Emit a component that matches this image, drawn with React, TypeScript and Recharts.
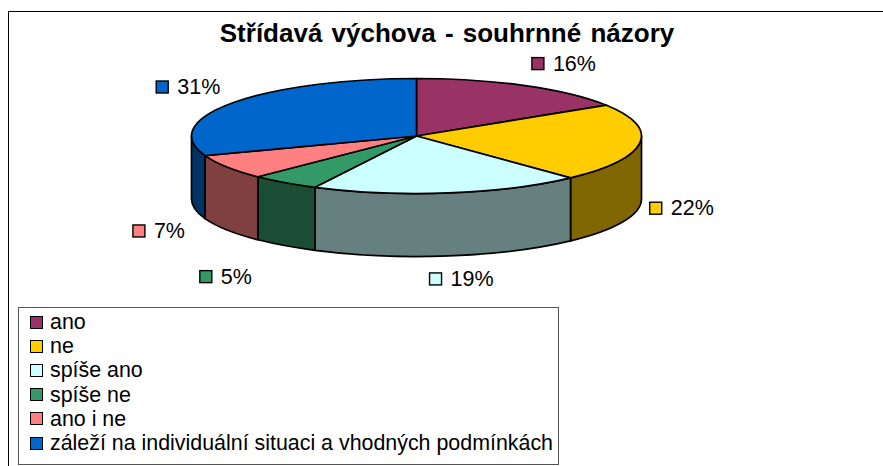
import React from "react";
import { PieChart, Pie, Legend } from "recharts";

const categories = ["ano", "ne", "spíše ano", "spíše ne", "ano i ne", "záleží na individuální situaci a vhodných podmínkách"];
const shares = [16, 22, 19.45, 5, 7, 30.55];
const topColors = ["#993366", "#FFCC00", "#CCFFFF", "#339966", "#FF8080", "#0066CC"];
const wallColors = ["#4D1A33", "#806600", "#668080", "#1A4D33", "#804040", "#003366"];

// label placement relative to the rim point at each slice's middle angle
const labelNudgeX = [40, 43, 14, -52, -61, -43];
const labelNudgeY = [-22, 2, 23, 31, 1, -16];

const table = categories.map((name, i) => ({ name, value: shares[i], fill: topColors[i], wall: wallColors[i] }));

const TILT = 0.2556;
const DEPTH = 63;
const FONT = '"Liberation Sans", Arial, sans-serif';
const RAD = Math.PI / 180;

function SliceShape(props: any) {
  const { cx, cy, outerRadius, startAngle, endAngle, fill, wall } = props;
  const rx = outerRadius;
  const ry = outerRadius * TILT;
  const pt = (a: number, dy = 0) => [cx + rx * Math.cos(a * RAD), cy - ry * Math.sin(a * RAD) + dy];
  const [sx, sy] = pt(startAngle);
  const [ex, ey] = pt(endAngle);
  const large = Math.abs(startAngle - endAngle) > 180 ? 1 : 0;
  const top = `M${cx},${cy} L${sx},${sy} A${rx},${ry} 0 ${large} 1 ${ex},${ey} Z`;
  const a1 = Math.min(0, startAngle);
  const a2 = Math.max(-180, endAngle);
  let side = null;
  if (a1 > a2) {
    const [x1, y1] = pt(a1);
    const [x2, y2] = pt(a2);
    const [x3, y3] = pt(a2, DEPTH);
    const [x4, y4] = pt(a1, DEPTH);
    side = (
      <path
        d={`M${x1},${y1} A${rx},${ry} 0 0 1 ${x2},${y2} L${x3},${y3} A${rx},${ry} 0 0 0 ${x4},${y4} Z`}
        fill={wall}
        stroke="#000"
        strokeWidth={1.7}
        strokeLinejoin="round"
      />
    );
  }
  return (
    <g>
      {side}
      <path d={top} fill={fill} stroke="#000" strokeWidth={1.7} strokeLinejoin="round" />
    </g>
  );
}

function SliceLabel(props: any) {
  const { cx, cy, outerRadius, midAngle, index, value, fill } = props;
  const a = midAngle * RAD;
  const lower = Math.sin(a) < 0;
  const x = cx + outerRadius * Math.cos(a) + labelNudgeX[index];
  const y = cy - outerRadius * TILT * Math.sin(a) + (lower ? DEPTH : 0) + labelNudgeY[index];
  return (
    <g>
      <rect x={x - 33} y={y - 6} width={12} height={12} fill={fill} stroke="#000" strokeWidth={1.4} />
      <text x={x - 12} y={y + 7} fontFamily={FONT} fontSize={21.5} fill="#000">
        {Math.round(value)}%
      </text>
    </g>
  );
}

function LegendBox({ payload }: any) {
  return (
    <div style={{ boxSizing: "border-box", width: 541, height: 158, border: "1px solid #555", background: "#fff", paddingTop: 2 }}>
      {(payload || []).map((entry: any) => (
        <div key={entry.value} style={{ height: 24.2, display: "flex", alignItems: "center", fontFamily: FONT, fontSize: 21.4, lineHeight: "24px", color: "#000", whiteSpace: "nowrap" }}>
          <span style={{ boxSizing: "border-box", width: 13, height: 13, marginLeft: 11, marginRight: 7, background: entry.payload?.fill ?? entry.color, border: "1.5px solid #000" }} />
          {entry.value}
        </div>
      ))}
    </div>
  );
}

export default function App() {
  return (
    <div style={{ position: "fixed", left: 0, top: 0, width: 883, height: 466, background: "#fff", overflow: "hidden" }}>
      <div style={{ position: "absolute", left: 8, top: 11, width: 900, height: 500, borderLeft: "1px solid #000", borderTop: "1px solid #000" }} />
      <div style={{ position: "absolute", left: 0, top: 0 }}>
        <PieChart width={883} height={466} margin={{ top: 0, right: 0, bottom: 0, left: 0 }}>
          <text x={447} y={42} textAnchor="middle" fontFamily={FONT} fontWeight="bold" fontSize={26} wordSpacing={2} fill="#000">
            Střídavá výchova - souhrnné názory
          </text>
          <Pie
            data={table}
            dataKey="value"
            nameKey="name"
            cx={416.5}
            cy={136}
            innerRadius={0}
            outerRadius={225}
            startAngle={90}
            endAngle={-270}
            paddingAngle={0}
            isAnimationActive={false}
            shape={SliceShape}
            label={SliceLabel}
            labelLine={false}
          />
          <Legend itemSorter={null} content={LegendBox} wrapperStyle={{ position: "absolute", left: 18, top: 307, width: 541, height: 158 }} />
        </PieChart>
      </div>
    </div>
  );
}
